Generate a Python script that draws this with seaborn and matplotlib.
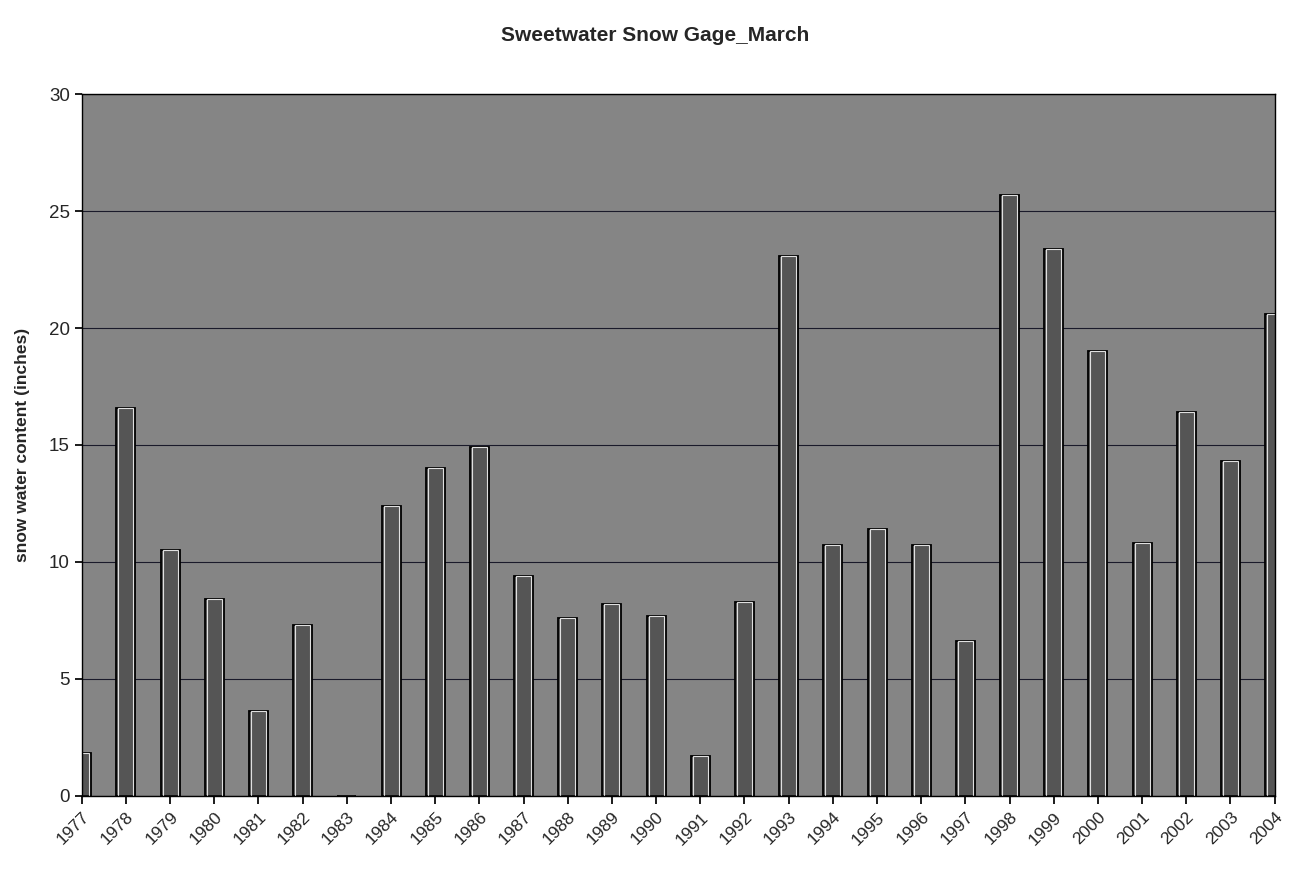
import pandas as pd
import matplotlib
matplotlib.use('Agg')
import matplotlib.pyplot as plt
import seaborn as sns

# March snow water content (1983 shows no bar)
years = [str(y) for y in range(1977, 2005)]
swc = [1.8, 16.6, 10.5, 8.4, 3.6, 7.3, 0.0, 12.4, 14.0, 14.9,
       9.4, 7.6, 8.2, 7.7, 1.7, 8.3, 23.1, 10.7, 11.4, 10.7,
       6.6, 25.7, 23.4, 19.0, 10.8, 16.4, 14.3, 20.6]
y_ticks = [0, 5, 10, 15, 20, 25, 30]

df = pd.DataFrame({'year': years, 'swc': swc})

sns.set_theme(style='white')
plt.rcParams['font.family'] = ['Liberation Sans', 'DejaVu Sans']

fig = plt.figure(figsize=(12.98, 8.82), dpi=100)
ax = fig.add_axes([0.063, 0.098, 0.919, 0.795])
ax.set_facecolor('#858585')

# Excel-style gridlines behind the bars
ax.set_axisbelow(True)
ax.yaxis.grid(True, color='#1a1a2a', linewidth=0.8)

sns.barplot(data=df, x='year', y='swc', ax=ax, color='#555555',
            saturation=1, width=0.43, edgecolor='black', linewidth=1.3)
# thin white line just inside each bar outline
sns.barplot(data=df, x='year', y='swc', ax=ax, fill=False,
            width=0.34, edgecolor='#e0e0e0', linewidth=0.8)

ax.set_xlim(0, 27)
ax.set_ylim(0, 30)
ax.set_yticks(y_ticks)
ax.tick_params(axis='y', labelsize=13.5, length=5, direction='out', left=True, color='black')
ax.tick_params(axis='x', labelsize=12.5, length=6, pad=4, direction='out', bottom=True, color='black')
plt.setp(ax.get_xticklabels(), rotation=45, ha='right', rotation_mode='anchor')

for s in ax.spines.values():
    s.set_color('black')
    s.set_linewidth(1.0)

ax.set_xlabel('')
ax.set_ylabel('snow water content (inches)', fontsize=12.5, fontweight='bold', labelpad=14)
fig.suptitle('Sweetwater Snow Gage_March', x=0.505, y=0.97, fontsize=15, fontweight='bold')

fig.savefig('out.png', dpi=100)
